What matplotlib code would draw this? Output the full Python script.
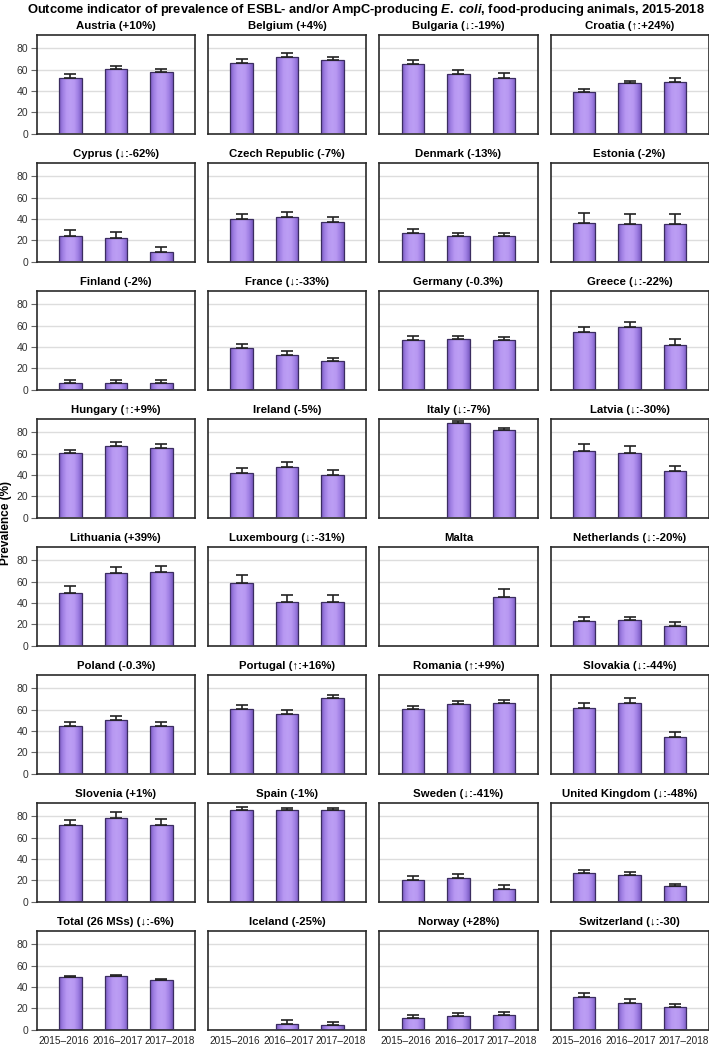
import numpy as np
import matplotlib
matplotlib.use('Agg')
import matplotlib.pyplot as plt
from matplotlib.colors import LinearSegmentedColormap

plt.rcParams['font.family'] = ['Liberation Sans', 'DejaVu Sans']
plt.rcParams['mathtext.fontset'] = 'custom'
plt.rcParams['mathtext.it'] = 'Liberation Sans:italic:bold'
plt.rcParams['mathtext.rm'] = 'Liberation Sans:bold'

nan = np.nan
periods = ['2015–2016', '2016–2017', '2017–2018']

titles = ['Austria (+10%)', 'Belgium (+4%)', 'Bulgaria (↓:-19%)', 'Croatia (↑:+24%)',
          'Cyprus (↓:-62%)', 'Czech Republic (-7%)', 'Denmark (-13%)', 'Estonia (-2%)',
          'Finland (-2%)', 'France (↓:-33%)', 'Germany (-0.3%)', 'Greece (↓:-22%)',
          'Hungary (↑:+9%)', 'Ireland (-5%)', 'Italy (↓:-7%)', 'Latvia (↓:-30%)',
          'Lithuania (+39%)', 'Luxembourg (↓:-31%)', 'Malta', 'Netherlands (↓:-20%)',
          'Poland (-0.3%)', 'Portugal (↑:+16%)', 'Romania (↑:+9%)', 'Slovakia (↓:-44%)',
          'Slovenia (+1%)', 'Spain (-1%)', 'Sweden (↓:-41%)', 'United Kingdom (↓:-48%)',
          'Total (26 MSs) (↓:-6%)', 'Iceland (-25%)', 'Norway (+28%)', 'Switzerland (↓:-30)']

# prevalence (%) per period
prev_1516 = [52.4, 66.0, 64.8, 39.4, 24.4, 40.3, 27.2, 36.6, 6.3, 39.4, 46.9, 54.4,
             60.2, 42.0, nan, 62.1, 49.5, 58.6, nan, 23.2, 44.7, 60.9, 60.6, 61.6,
             71.6, 86.3, 20.6, 27.2, 48.9, nan, 10.9, 30.4]
prev_1617 = [60.2, 72.2, 55.5, 47.1, 21.9, 41.9, 24.1, 35.0, 6.3, 32.8, 47.5, 59.1,
             67.1, 47.0, 88.4, 60.2, 67.8, 40.8, nan, 23.5, 50.6, 56.3, 65.3, 66.3,
             78.8, 85.6, 21.9, 24.7, 49.9, 5.0, 12.8, 25.0]
prev_1718 = [57.7, 68.8, 52.4, 48.7, 9.1, 37.5, 23.8, 35.6, 6.0, 26.6, 46.9, 42.2,
             65.5, 39.5, 82.2, 43.3, 69.0, 40.5, 45.2, 18.5, 44.7, 70.6, 65.9, 34.7,
             72.2, 85.6, 12.2, 14.1, 46.4, 3.8, 14.0, 21.0]

# upper confidence limit per period
upper_1516 = [56.1, 69.5, 68.8, 41.9, 30.0, 44.7, 30.6, 45.3, 8.8, 42.8, 50.0, 59.1,
              63.6, 46.7, nan, 68.7, 55.8, 66.5, nan, 26.4, 48.1, 64.7, 63.8, 66.3,
              76.9, 88.4, 24.1, 30.0, 50.2, nan, 13.2, 33.9]
upper_1617 = [63.5, 75.6, 59.8, 49.6, 27.5, 46.3, 27.2, 44.4, 8.8, 35.9, 50.6, 63.4,
              70.6, 51.8, 90.4, 66.8, 73.4, 47.3, nan, 27.0, 54.4, 60.0, 68.4, 70.6,
              83.8, 87.8, 25.6, 27.5, 50.8, 8.8, 15.3, 28.2]
upper_1718 = [60.8, 72.2, 56.7, 51.8, 13.8, 41.9, 26.3, 44.4, 8.6, 29.4, 49.7, 47.2,
              69.0, 44.2, 84.0, 48.6, 74.6, 47.3, 52.7, 21.6, 48.1, 73.8, 69.0, 39.4,
              77.5, 87.8, 15.3, 16.9, 47.3, 6.9, 16.6, 24.1]

prev = np.array([prev_1516, prev_1617, prev_1718]).T
upper = np.array([upper_1516, upper_1617, upper_1718]).T

W, H = 709, 1045
fig = plt.figure(figsize=(W / 100, H / 100), dpi=100)

cmap = LinearSegmentedColormap.from_list(
    'bar', ['#7a5bc2', '#a080e4', '#b898f2', '#bc9ef4', '#b898f2', '#a080e4', '#7a5bc2'])
grad = np.linspace(0, 1, 64).reshape(1, -1)

col_left = [36.7, 208.0, 379.3, 550.5]
ax_w = 158.3
row_top = [35 + 128.0 * i for i in range(8)]
ax_h = 98.5
x = np.arange(3)
xmin, xmax = -0.742, 2.742

for i, title in enumerate(titles):
    r, c = divmod(i, 4)
    ax = fig.add_axes([col_left[c] / W, 1 - (row_top[r] + ax_h) / H, ax_w / W, ax_h / H])
    vals = prev[i]
    bars = ax.bar(x, np.nan_to_num(vals), width=0.495, facecolor='none',
                  edgecolor='#3b2d60', linewidth=0.9, zorder=3)
    for b, v in zip(bars, vals):
        if np.isnan(v) or v <= 0:
            b.set_visible(False)
            continue
        x0, y0 = b.get_x(), b.get_y()
        im = ax.imshow(grad, cmap=cmap, aspect='auto', zorder=2,
                       extent=[x0, x0 + b.get_width(), y0, y0 + b.get_height()])
        im.set_clip_path(b)
    err = upper[i] - vals
    ax.errorbar(x, vals, yerr=[np.zeros(3), err], fmt='none', ecolor='#222222',
                elinewidth=1.2, capsize=4.5, capthick=1.2, zorder=4)
    ax.set_xlim(xmin, xmax)
    ax.set_ylim(0, 92.5)
    ax.set_yticks([0, 20, 40, 60, 80])
    # category labels fill the panel width
    ax.set_xticks([xmin + 0.03, 1.03, xmax - 0.01])
    ax.set_xticklabels(periods, fontsize=7.2, color='#222222')
    for lab, ha in zip(ax.get_xticklabels(), ['left', 'center', 'right']):
        lab.set_ha(ha)
    ax.yaxis.grid(True, color='#dddddd', linewidth=1)
    ax.set_axisbelow(True)
    for s in ax.spines.values():
        s.set_color('#2a2a2a')
        s.set_linewidth(1.2)
    ax.tick_params(axis='x', bottom=False, labelbottom=(r == 7), pad=1.5)
    if c == 0:
        ax.tick_params(axis='y', length=4, width=0.8, color='#666666',
                       labelsize=7.5, labelcolor='#333333', pad=2)
    else:
        ax.tick_params(axis='y', left=False, labelleft=False)
    ax.set_title(title, fontsize=8.2, fontweight='bold', pad=4)

fig.text(366 / W, 1 - 10 / H,
         r'Outcome indicator of prevalence of ESBL- and/or AmpC-producing $\it{E.}$ $\it{coli}$, food-producing animals, 2015-2018',
         ha='center', va='center', fontsize=9.3, fontweight='bold')
fig.text(6.5 / W, 1 - 523 / H, 'Prevalence (%)', rotation=90, ha='center', va='center',
         fontsize=8.5, fontweight='bold')

fig.savefig('out.png', dpi=100)
